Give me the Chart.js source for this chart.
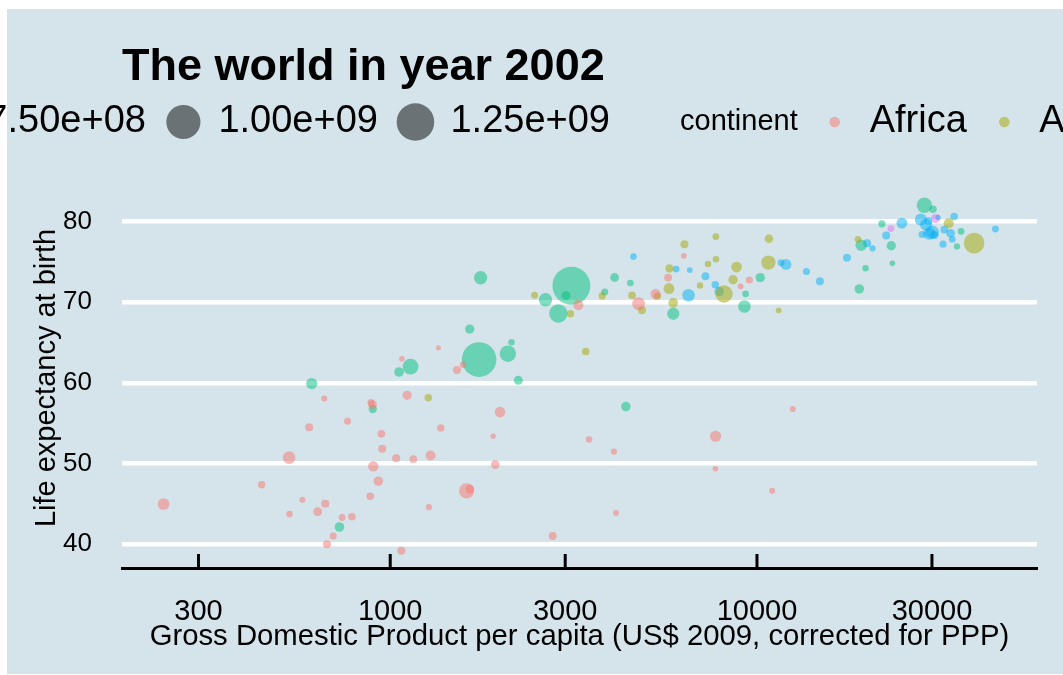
<!DOCTYPE html>
<html>
<head>
<meta charset="utf-8">
<script src="https://cdn.jsdelivr.net/npm/chart.js@4/dist/chart.umd.min.js"></script>
<style>
  html, body { margin: 0; padding: 0; background: #fff; overflow: hidden; }
</style>
</head>
<body>
<canvas id="chart" width="1063" height="675"></canvas>
<script>
const continents = ["Africa", "Americas", "Asia", "Europe", "Oceania"];
const continentColors = ["#F8766D", "#A3A500", "#00BF7D", "#00B0F6", "#E76BF3"];
const xTickValues = [300, 1000, 3000, 10000, 30000];
const yTickValues = [40, 50, 60, 70, 80];
// population in millions
const popBreaks = [250, 500, 750, 1000, 1250];
const popBreakLabels = ["2.50e+08", "5.00e+08", "7.50e+08", "1.00e+09", "1.25e+09"];

// Africa
const africaGdp = [5288, 2773, 1373, 11004, 1038, 446, 1934, 739, 1156, 1076, 241, 3484, 1649, 1908, 4755, 7703, 765, 530, 12522, 661, 1112, 946, 576, 1288, 1275, 531, 9535, 895, 665, 951, 1579, 9022, 3258, 634, 4072, 601, 1615, 6316, 786, 1353, 1520, 699, 882, 7711, 1993, 4128, 899, 886, 5723, 928, 1072, 672];
const africaLife = [70.99, 41.00, 54.41, 46.63, 50.65, 47.36, 49.86, 43.31, 50.53, 62.97, 44.97, 52.97, 46.83, 53.37, 69.81, 49.35, 55.24, 50.73, 56.76, 58.04, 58.45, 53.68, 45.50, 50.99, 44.59, 43.75, 72.74, 57.29, 45.01, 51.82, 62.25, 71.95, 69.62, 44.03, 51.48, 54.50, 46.61, 75.74, 43.41, 64.34, 61.60, 41.01, 45.94, 53.37, 56.37, 43.87, 49.65, 57.56, 73.04, 47.81, 39.19, 39.99];
const africaPop = [31.29, 10.87, 7.03, 1.63, 12.25, 7.02, 15.93, 4.05, 8.84, 0.61, 55.38, 3.33, 16.25, 0.45, 73.31, 0.50, 4.41, 67.95, 1.30, 1.46, 20.55, 8.81, 1.33, 31.39, 2.05, 2.81, 5.37, 16.47, 11.82, 10.58, 2.83, 1.20, 31.17, 18.47, 1.97, 11.14, 119.90, 0.74, 7.85, 0.17, 10.87, 5.36, 7.75, 44.43, 37.09, 1.13, 34.59, 4.98, 9.77, 24.74, 10.60, 11.93];

// Americas
const americasGdp = [8798, 3413, 8131, 33329, 10779, 5755, 7723, 6341, 4564, 5773, 5352, 4858, 1270, 3100, 6995, 10742, 2475, 7356, 3784, 5909, 18856, 11461, 39097, 7727, 8605];
const americasLife = [74.34, 63.88, 71.01, 79.77, 77.86, 71.68, 78.12, 77.16, 70.85, 74.17, 70.73, 68.98, 58.14, 68.57, 72.05, 74.90, 70.84, 74.71, 70.76, 69.91, 77.78, 68.98, 77.31, 75.31, 72.77];
const americasPop = [38.33, 8.45, 179.91, 31.90, 15.50, 41.01, 3.83, 11.23, 8.65, 12.92, 6.35, 11.18, 7.61, 6.68, 2.66, 102.48, 5.15, 2.99, 5.88, 26.77, 3.86, 1.10, 287.68, 3.36, 24.29];

// Asia
const asiaGdp = [727, 23404, 1136, 896, 3119, 30209, 1747, 2874, 9241, 4391, 21906, 28605, 3845, 1647, 19234, 35110, 9314, 10207, 2141, 611, 1057, 19775, 2093, 2651, 19015, 36023, 3015, 4091, 23235, 5913, 1764, 4515, 2235];
const asiaLife = [42.13, 74.80, 62.01, 56.75, 72.03, 81.50, 62.88, 68.59, 69.45, 57.05, 79.70, 82.00, 71.26, 66.66, 77.05, 76.90, 71.03, 73.04, 65.03, 59.91, 61.34, 74.19, 63.61, 70.30, 71.63, 78.77, 70.82, 73.05, 76.99, 68.56, 73.02, 72.37, 60.31];
const asiaPop = [25.27, 0.66, 135.66, 12.93, 1280.40, 6.76, 1034.17, 211.06, 66.91, 24.00, 6.03, 127.07, 5.31, 22.22, 47.97, 2.11, 3.68, 22.66, 2.67, 45.60, 25.87, 2.71, 153.40, 83.00, 24.50, 4.20, 19.58, 17.16, 22.45, 62.81, 80.91, 3.39, 18.70];

// Europe
const europeGdp = [4604, 32418, 30486, 6019, 7697, 11628, 17596, 32167, 28205, 28926, 30036, 22514, 14844, 31163, 34077, 27968, 6557, 33725, 44684, 12002, 19971, 7885, 7236, 13639, 20660, 24835, 29342, 34481, 6508, 29479];
const europeLife = [75.65, 78.98, 78.32, 74.09, 72.14, 74.88, 75.51, 77.18, 78.37, 79.59, 78.67, 78.26, 72.59, 80.50, 77.78, 80.24, 73.98, 78.53, 79.05, 74.67, 77.29, 71.32, 73.21, 73.80, 76.66, 79.78, 80.04, 80.62, 70.85, 78.47];
const europePop = [3.51, 8.15, 10.31, 4.17, 7.66, 4.48, 10.26, 5.37, 5.19, 59.93, 82.35, 10.60, 10.08, 0.29, 3.88, 57.93, 0.72, 16.12, 4.54, 38.63, 10.43, 22.40, 10.11, 5.41, 2.01, 40.15, 8.95, 7.36, 67.31, 59.91];

// Oceania
const oceaniaGdp = [30688, 23190];
const oceaniaLife = [80.37, 79.11];
const oceaniaPop = [19.55, 3.91];

const FONT = "'Liberation Sans', Arial, Helvetica, sans-serif";
const BG = "#d5e4eb";

const groups = [
  [africaGdp, africaLife, africaPop],
  [americasGdp, americasLife, americasPop],
  [asiaGdp, asiaLife, asiaPop],
  [europeGdp, europeLife, europePop],
  [oceaniaGdp, oceaniaLife, oceaniaPop],
];

const allGdp = groups.flatMap(g => g[0]);
const allLife = groups.flatMap(g => g[1]);
const allPop = groups.flatMap(g => g[2]);

// ggplot-like 5% expansion of the data range
const lx0 = Math.log10(Math.min(...allGdp));
const lx1 = Math.log10(Math.max(...allGdp));
const xMin = Math.pow(10, lx0 - 0.05 * (lx1 - lx0));
const xMax = Math.pow(10, lx1 + 0.05 * (lx1 - lx0));
const ly0 = Math.min(...allLife);
const ly1 = Math.max(...allLife);
const yMin = ly0 - 0.05 * (ly1 - ly0);
const yMax = ly1 + 0.05 * (ly1 - ly0);

const popMin = Math.min(...allPop);
const popMax = Math.max(...allPop);
function radius(p) {
  return 2.5 + 16.5 * Math.sqrt(Math.max(0, p - popMin) / (popMax - popMin));
}

function withAlpha(hex, a) {
  const n = parseInt(hex.slice(1), 16);
  return `rgba(${(n >> 16) & 255}, ${(n >> 8) & 255}, ${n & 255}, ${a})`;
}

const datasets = continents.map((name, i) => ({
  label: name,
  data: groups[i][0].map((g, j) => ({ x: g, y: groups[i][1][j], r: radius(groups[i][2][j]) })),
  backgroundColor: withAlpha(continentColors[i], 0.5),
  borderWidth: 0,
}));

const background = {
  id: "background",
  beforeDraw(chart) {
    const { ctx, width, height } = chart;
    ctx.save();
    ctx.fillStyle = "#fff";
    ctx.fillRect(0, 0, width, height);
    ctx.fillStyle = BG;
    ctx.fillRect(7, 9, width - 7, height - 10);
    ctx.restore();
  },
};

// ticks point up into the panel
const axisTicks = {
  id: "axisTicks",
  afterDatasetsDraw(chart) {
    const { ctx, chartArea, scales } = chart;
    ctx.save();
    ctx.strokeStyle = "#000";
    ctx.lineWidth = 3;
    xTickValues.forEach(v => {
      const px = scales.x.getPixelForValue(v);
      ctx.beginPath();
      ctx.moveTo(px, chartArea.bottom);
      ctx.lineTo(px, chartArea.bottom - 14);
      ctx.stroke();
    });
    ctx.restore();
  },
};

const header = {
  id: "header",
  afterDraw(chart) {
    const { ctx, chartArea } = chart;
    ctx.save();
    ctx.fillStyle = "#000";
    ctx.font = `bold 45px ${FONT}`;
    ctx.textBaseline = "alphabetic";
    ctx.textAlign = "left";
    ctx.fillText("The world in year 2002", chartArea.left, 80);

    const legendY = 122;
    const keyW = 38, gapKL = 16, gapLK = 18.5, gapTitle = 18;
    const labelFont = `38px ${FONT}`, titleFont = `29px ${FONT}`;
    ctx.textBaseline = "middle";

    // size legend, laid out right to left
    let x = 610;
    for (let i = popBreaks.length - 1; i >= 0; i--) {
      ctx.font = labelFont;
      const w = ctx.measureText(popBreakLabels[i]).width;
      x -= w;
      ctx.fillStyle = "#000";
      ctx.fillText(popBreakLabels[i], x, legendY);
      x -= gapKL + keyW / 2;
      ctx.fillStyle = "rgba(0, 0, 0, 0.5)";
      ctx.beginPath();
      ctx.arc(x, legendY, radius(popBreaks[i]), 0, Math.PI * 2);
      ctx.fill();
      x -= keyW / 2 + (i > 0 ? gapLK : gapTitle);
    }
    ctx.font = titleFont;
    ctx.fillStyle = "#000";
    ctx.fillText("pop", x - ctx.measureText("pop").width, legendY);

    // continent legend
    x = 680;
    ctx.font = titleFont;
    ctx.fillText("continent", x, legendY);
    x += ctx.measureText("continent").width + gapTitle;
    continents.forEach((name, i) => {
      ctx.fillStyle = withAlpha(continentColors[i], 0.5);
      ctx.beginPath();
      ctx.arc(x + keyW / 2, legendY, 5.3, 0, Math.PI * 2);
      ctx.fill();
      x += keyW + gapKL;
      ctx.font = labelFont;
      ctx.fillStyle = "#000";
      ctx.fillText(name, x, legendY);
      x += ctx.measureText(name).width + gapLK;
    });
    ctx.restore();
  },
};

new Chart(document.getElementById("chart"), {
  type: "bubble",
  data: { datasets },
  options: {
    responsive: false,
    animation: false,
    events: [],
    layout: { padding: { left: 7, right: 26, top: 188, bottom: 0 } },
    plugins: {
      legend: { display: false },
      tooltip: { enabled: false },
    },
    scales: {
      x: {
        type: "logarithmic",
        min: xMin,
        max: xMax,
        afterBuildTicks: s => { s.ticks = xTickValues.map(v => ({ value: v })); },
        afterFit: s => { s.height = 107; },
        grid: { display: false, drawTicks: false },
        border: { display: true, color: "#000", width: 3 },
        ticks: {
          callback: v => String(v),
          font: { family: FONT, size: 29 },
          color: "#000",
          padding: 27,
          autoSkip: false,
          maxRotation: 0,
        },
        title: {
          display: true,
          text: "Gross Domestic Product per capita (US$ 2009, corrected for PPP)",
          font: { family: FONT, size: 29.3 },
          color: "#000",
          padding: { top: 0, bottom: 21 },
        },
      },
      y: {
        min: yMin,
        max: yMax,
        afterBuildTicks: s => { s.ticks = yTickValues.map(v => ({ value: v })); },
        afterFit: s => { s.width = 115; },
        grid: { color: "#fff", lineWidth: 4.5, drawTicks: false },
        border: { display: false },
        ticks: {
          font: { family: FONT, size: 26 },
          color: "#000",
          padding: 30,
        },
        title: {
          display: true,
          text: "Life expectancy at birth",
          font: { family: FONT, size: 29 },
          color: "#000",
          padding: { top: 23, bottom: 0 },
        },
      },
    },
  },
  plugins: [background, axisTicks, header],
});
</script>
</body>
</html>
